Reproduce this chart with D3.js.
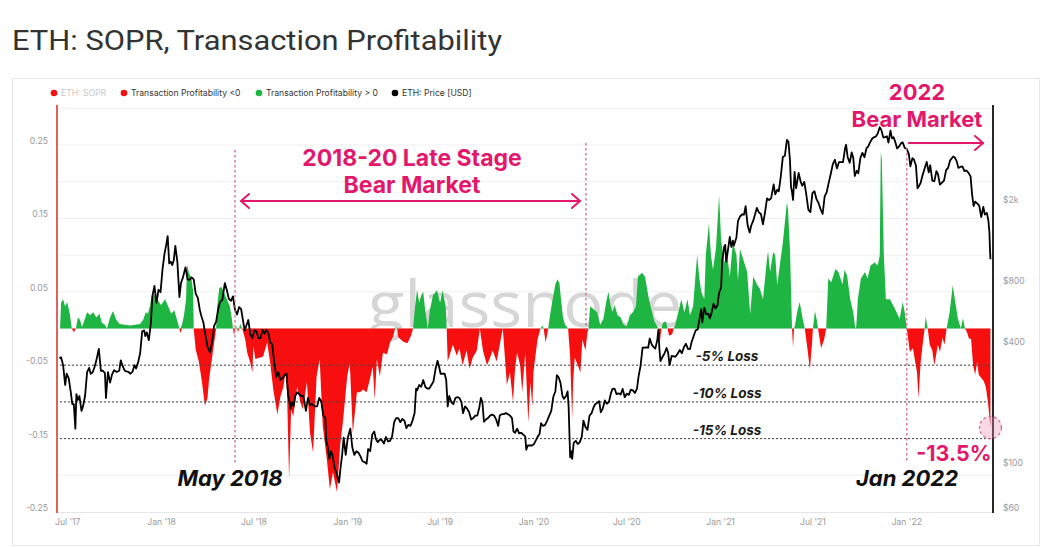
<!DOCTYPE html>
<html><head><meta charset="utf-8">
<script src="https://cdn.jsdelivr.net/npm/d3@7"></script>
<style>body{margin:0;background:#fff;} svg{display:block;}</style>
</head><body><svg id="c" width="1041" height="547"></svg>
<script>
// ---------------- DATA ----------------
const title = "ETH: SOPR, Transaction Profitability";
const legendLabels = ["ETH: SOPR", "Transaction Profitability <0", "Transaction Profitability > 0", "ETH: Price [USD]"];
const leftTicks = [0.25, 0.15, 0.05, -0.05, -0.15, -0.25];
const gridTicks = [0.3, 0.25, 0.2, 0.15, 0.1, 0.05, 0, -0.05, -0.1, -0.15, -0.2];
const rightTicks = [60, 100, 400, 800, 2000];
const rightTickLabels = ["$60", "$100", "$400", "$800", "$2k"];
const xTicks = ["2017-07-01","2018-01-01","2018-07-01","2019-01-01","2019-07-01","2020-01-01","2020-07-01","2021-01-01","2021-07-01","2022-01-01"];
const xTickLabels = ["Jul '17","Jan '18","Jul '18","Jan '19","Jul '19","Jan '20","Jul '20","Jan '21","Jul '21","Jan '22"];
const lossLevels = [-0.05, -0.10, -0.15];
const lossLabels = ["-5% Loss", "-10% Loss", "-15% Loss"];
const bearStart = ["2018-05-25", "2022-01-01"];
const bearEnd = ["2020-04-12", "2022-06-14"];
const latestValue = ["2022-06-14", -0.135];
const latestLabel = "-13.5%";

const priceData = [
["2017-06-15",345],["2017-06-18",350],["2017-06-22",320],["2017-06-26",255],["2017-06-29",290],["2017-07-03",275],["2017-07-07",235],["2017-07-10",205],["2017-07-13",205],["2017-07-16",155],["2017-07-18",230],["2017-07-21",215],["2017-07-24",225],["2017-07-28",190],["2017-07-31",200],["2017-08-04",225],["2017-08-08",295],["2017-08-12",310],["2017-08-15",290],["2017-08-19",295],["2017-08-23",315],["2017-08-27",345],["2017-08-31",385],
["2017-09-04",300],["2017-09-08",300],["2017-09-12",292],["2017-09-14",220],["2017-09-16",258],["2017-09-18",295],["2017-09-22",262],["2017-09-26",288],["2017-09-30",302],["2017-10-05",296],["2017-10-10",300],["2017-10-13",338],["2017-10-17",315],["2017-10-21",300],["2017-10-24",298],["2017-10-28",296],["2017-11-01",290],["2017-11-05",297],["2017-11-09",320],["2017-11-12",308],["2017-11-16",330],["2017-11-20",366],["2017-11-24",470],["2017-11-28",475],["2017-11-30",445],["2017-12-03",465],["2017-12-07",425],["2017-12-11",515],["2017-12-14",700],["2017-12-18",790],["2017-12-22",650],["2017-12-26",755],["2017-12-30",735],
["2018-01-03",960],["2018-01-07",1150],["2018-01-10",1255],["2018-01-13",1390],["2018-01-16",1020],["2018-01-19",1040],["2018-01-22",1000],["2018-01-25",1060],["2018-01-28",1245],["2018-02-01",1035],["2018-02-05",695],["2018-02-08",815],["2018-02-12",870],["2018-02-17",975],["2018-02-21",850],["2018-02-25",845],["2018-03-01",870],["2018-03-05",850],["2018-03-09",720],["2018-03-13",690],["2018-03-17",600],["2018-03-20",560],["2018-03-24",520],["2018-03-28",450],["2018-04-01",395],["2018-04-06",370],["2018-04-10",415],["2018-04-14",500],["2018-04-18",525],["2018-04-22",605],["2018-04-26",660],["2018-04-30",670],["2018-05-05",815],["2018-05-09",750],["2018-05-13",680],["2018-05-17",665],["2018-05-21",700],["2018-05-25",600],["2018-05-29",570],["2018-06-02",620],["2018-06-06",605],["2018-06-10",525],["2018-06-13",475],["2018-06-16",500],["2018-06-20",535],["2018-06-24",455],["2018-06-28",435],["2018-07-02",475],["2018-07-06",470],["2018-07-10",435],["2018-07-14",435],["2018-07-18",478],["2018-07-22",458],["2018-07-25",478],["2018-07-29",465],["2018-08-02",415],["2018-08-06",405],["2018-08-10",330],["2018-08-14",280],["2018-08-18",295],["2018-08-22",270],["2018-08-26",275],["2018-08-30",285],["2018-09-03",290],["2018-09-06",230],["2018-09-11",195],["2018-09-13",210],["2018-09-17",200],["2018-09-20",225],["2018-09-24",235],["2018-09-28",230],["2018-10-02",225],["2018-10-06",225],["2018-10-11",190],["2018-10-15",220],["2018-10-19",203],["2018-10-23",205],["2018-10-28",200],["2018-11-02",200],["2018-11-06",220],["2018-11-10",212],["2018-11-14",180],["2018-11-18",176],["2018-11-20",135],["2018-11-23",125],["2018-11-26",110],["2018-11-29",120],["2018-12-02",115],["2018-12-06",100],["2018-12-09",95],["2018-12-12",90],["2018-12-15",84],["2018-12-18",100],["2018-12-21",115],["2018-12-24",140],["2018-12-28",115],
["2019-01-01",140],["2019-01-06",155],["2019-01-10",125],["2019-01-14",115],["2019-01-18",120],["2019-01-22",118],["2019-01-26",113],["2019-01-30",107],["2019-02-03",106],["2019-02-07",104],["2019-02-10",123],["2019-02-14",120],["2019-02-18",145],["2019-02-22",150],["2019-02-25",138],["2019-03-01",133],["2019-03-05",137],["2019-03-09",136],["2019-03-13",131],["2019-03-17",141],["2019-03-21",134],["2019-03-25",135],["2019-03-29",142],["2019-04-02",167],["2019-04-06",175],["2019-04-10",175],["2019-04-14",167],["2019-04-18",173],["2019-04-22",170],["2019-04-26",156],["2019-04-30",162],["2019-05-04",160],["2019-05-08",170],["2019-05-12",185],["2019-05-15",245],["2019-05-17",240],["2019-05-21",255],["2019-05-25",250],["2019-05-29",270],["2019-06-02",250],["2019-06-06",245],["2019-06-10",245],["2019-06-14",255],["2019-06-18",265],["2019-06-22",305],["2019-06-26",336],["2019-06-29",315],["2019-07-02",290],["2019-07-06",290],["2019-07-10",290],["2019-07-13",270],["2019-07-16",200],["2019-07-19",225],["2019-07-23",210],["2019-07-27",205],["2019-07-31",220],["2019-08-04",222],["2019-08-08",220],["2019-08-12",210],["2019-08-15",185],["2019-08-19",200],["2019-08-23",195],["2019-08-27",187],["2019-08-31",172],["2019-09-04",175],["2019-09-08",180],["2019-09-12",180],["2019-09-16",198],["2019-09-19",220],["2019-09-22",210],["2019-09-25",168],["2019-09-29",172],["2019-10-03",175],["2019-10-07",180],["2019-10-11",182],["2019-10-15",180],["2019-10-19",172],["2019-10-23",160],["2019-10-26",180],["2019-10-30",183],["2019-11-03",183],["2019-11-07",185],["2019-11-11",183],["2019-11-15",180],["2019-11-19",175],["2019-11-22",150],["2019-11-25",148],["2019-11-29",155],["2019-12-03",147],["2019-12-07",148],["2019-12-11",145],["2019-12-15",142],["2019-12-17",122],["2019-12-20",128],["2019-12-24",128],["2019-12-28",128],
["2020-01-01",130],["2020-01-05",136],["2020-01-08",141],["2020-01-12",146],["2020-01-15",165],["2020-01-19",160],["2020-01-23",162],["2020-01-27",170],["2020-01-31",180],["2020-02-04",190],["2020-02-08",223],["2020-02-12",237],["2020-02-15",285],["2020-02-18",280],["2020-02-22",262],["2020-02-26",225],["2020-02-29",218],["2020-03-04",225],["2020-03-07",237],["2020-03-09",200],["2020-03-12",112],["2020-03-14",120],["2020-03-16",110],["2020-03-19",132],["2020-03-23",135],["2020-03-27",130],["2020-03-31",133],["2020-04-04",142],["2020-04-07",170],["2020-04-11",158],["2020-04-15",153],["2020-04-19",180],["2020-04-23",185],["2020-04-27",198],["2020-04-30",205],["2020-05-04",208],["2020-05-08",212],["2020-05-11",187],["2020-05-15",195],["2020-05-19",214],["2020-05-23",206],["2020-05-27",210],["2020-05-31",232],["2020-06-03",244],["2020-06-07",245],["2020-06-11",230],["2020-06-15",232],["2020-06-19",229],["2020-06-23",244],["2020-06-27",222],["2020-07-01",231],["2020-07-05",228],["2020-07-09",242],["2020-07-13",240],["2020-07-17",233],["2020-07-21",244],["2020-07-24",280],["2020-07-28",317],["2020-08-01",390],["2020-08-04",390],["2020-08-08",392],["2020-08-12",390],["2020-08-15",433],["2020-08-19",405],["2020-08-22",395],["2020-08-26",386],["2020-08-30",428],["2020-09-01",478],["2020-09-03",385],["2020-09-05",335],["2020-09-09",351],["2020-09-13",365],["2020-09-17",389],["2020-09-20",370],["2020-09-23",320],["2020-09-27",355],["2020-10-01",353],["2020-10-05",353],["2020-10-09",365],["2020-10-13",380],["2020-10-17",366],["2020-10-21",392],["2020-10-25",408],["2020-10-29",385],["2020-11-02",384],["2020-11-05",415],["2020-11-09",445],["2020-11-13",475],["2020-11-17",480],["2020-11-21",548],["2020-11-24",605],["2020-11-26",520],["2020-11-30",615],["2020-12-04",570],["2020-12-08",575],["2020-12-11",545],["2020-12-15",590],["2020-12-18",645],["2020-12-22",610],["2020-12-26",635],["2020-12-29",730],
["2021-01-02",775],["2021-01-04",1040],["2021-01-08",1230],["2021-01-10",1260],["2021-01-12",1040],["2021-01-15",1170],["2021-01-19",1380],["2021-01-22",1230],["2021-01-25",1320],["2021-01-27",1250],["2021-02-01",1370],["2021-02-04",1650],["2021-02-08",1740],["2021-02-12",1780],["2021-02-16",1780],["2021-02-19",1960],["2021-02-23",1570],["2021-02-27",1450],["2021-03-02",1570],["2021-03-06",1660],["2021-03-10",1800],["2021-03-13",1920],["2021-03-17",1825],["2021-03-21",1790],["2021-03-25",1590],["2021-03-29",1820],["2021-04-02",2140],["2021-04-06",2100],["2021-04-10",2140],["2021-04-15",2510],["2021-04-18",2240],["2021-04-22",2360],["2021-04-25",2320],["2021-04-29",2750],["2021-05-03",3430],["2021-05-07",3480],["2021-05-11",4170],["2021-05-14",4080],["2021-05-17",3290],["2021-05-19",2440],["2021-05-21",2300],["2021-05-23",2100],["2021-05-26",2890],["2021-05-29",2400],["2021-06-03",2860],["2021-06-07",2580],["2021-06-10",2470],["2021-06-14",2580],["2021-06-18",2230],["2021-06-22",1880],["2021-06-26",1830],["2021-06-30",2270],["2021-07-04",2320],["2021-07-08",2120],["2021-07-12",2030],["2021-07-16",1890],["2021-07-20",1790],["2021-07-24",2190],["2021-07-28",2300],["2021-08-01",2560],["2021-08-05",2830],["2021-08-09",3160],["2021-08-13",3320],["2021-08-17",3010],["2021-08-21",3230],["2021-08-25",3230],["2021-08-29",3230],["2021-09-02",3790],["2021-09-04",3940],["2021-09-07",3430],["2021-09-11",3210],["2021-09-15",3610],["2021-09-18",3400],["2021-09-21",2760],["2021-09-25",2930],["2021-09-28",2850],["2021-10-02",3390],["2021-10-06",3590],["2021-10-10",3420],["2021-10-14",3790],["2021-10-17",3850],["2021-10-21",4050],["2021-10-25",4220],["2021-10-28",4290],["2021-11-01",4320],["2021-11-05",4480],["2021-11-09",4810],["2021-11-12",4670],["2021-11-16",4280],["2021-11-19",4300],["2021-11-23",4340],["2021-11-26",4040],["2021-11-30",4630],["2021-12-03",4240],["2021-12-06",4300],["2021-12-09",4100],["2021-12-13",3780],["2021-12-17",3870],["2021-12-21",4020],["2021-12-24",4050],["2021-12-28",3800],
["2022-01-01",3760],["2022-01-05",3540],["2022-01-08",3080],["2022-01-12",3380],["2022-01-15",3330],["2022-01-19",3100],["2022-01-22",2400],["2022-01-24",2440],["2022-01-28",2550],["2022-02-01",2790],["2022-02-05",3010],["2022-02-09",3240],["2022-02-13",2880],["2022-02-16",3120],["2022-02-20",2620],["2022-02-24",2600],["2022-02-28",2920],["2022-03-03",2830],["2022-03-07",2500],["2022-03-11",2560],["2022-03-15",2620],["2022-03-19",2950],["2022-03-23",3030],["2022-03-27",3300],["2022-04-02",3450],["2022-04-05",3410],["2022-04-09",3260],["2022-04-12",3030],["2022-04-16",3060],["2022-04-20",3080],["2022-04-24",2920],["2022-04-28",2940],["2022-05-02",2860],["2022-05-06",2750],["2022-05-09",2240],["2022-05-12",1960],["2022-05-15",2060],["2022-05-19",2020],["2022-05-23",1970],["2022-05-27",1730],["2022-05-31",1940],["2022-06-03",1780],["2022-06-07",1810],["2022-06-10",1660],["2022-06-12",1450],["2022-06-13",1210],["2022-06-14",1070]
];

const profitData = [
["2017-06-16",0.0],["2017-06-18",0.035],["2017-06-22",0.04],["2017-06-26",0.03],["2017-06-30",0.036],["2017-07-05",0.02],["2017-07-09",0],["2017-07-13",-0.005],["2017-07-17",0],["2017-07-21",0.015],["2017-07-25",0.012],["2017-07-29",0.002],["2017-08-02",0.01],["2017-08-08",0.022],["2017-08-14",0.018],["2017-08-20",0.022],["2017-08-26",0.015],["2017-09-01",0.02],["2017-09-06",0.008],["2017-09-12",0.005],["2017-09-16",0],["2017-09-22",0.015],["2017-09-28",0.024],["2017-10-04",0.012],["2017-10-11",0.006],["2017-10-21",0.005],["2017-11-01",0.004],["2017-11-10",0.005],["2017-11-20",0.006],["2017-11-26",0.012],["2017-12-01",0.022],["2017-12-05",0.02],["2017-12-09",0.03],["2017-12-13",0.046],["2017-12-19",0.045],["2017-12-25",0.038],["2017-12-31",0.032],
["2018-01-08",0.04],["2018-01-14",0.03],["2018-01-20",0.02],["2018-01-26",0.025],["2018-02-01",0.01],["2018-02-05",0],["2018-02-07",-0.006],["2018-02-10",0.005],["2018-02-14",0.018],["2018-02-18",0.04],["2018-02-20",0.087],["2018-02-24",0.075],["2018-02-28",0.07],["2018-03-04",0.05],["2018-03-05",0],["2018-03-09",-0.029],["2018-03-15",-0.045],["2018-03-21",-0.072],["2018-03-27",-0.105],["2018-04-01",-0.095],["2018-04-04",-0.07],["2018-04-10",-0.04],["2018-04-16",-0.01],["2018-04-18",0],["2018-04-20",0.03],["2018-04-24",0.055],["2018-04-28",0.057],["2018-05-03",0.05],["2018-05-09",0.04],["2018-05-15",0.03],["2018-05-19",0.012],["2018-05-21",0],["2018-05-23",-0.01],["2018-05-25",0],["2018-05-27",0.003],["2018-05-29",0],["2018-05-31",-0.005],["2018-06-02",0],["2018-06-04",0.006],["2018-06-08",0],["2018-06-14",-0.015],["2018-06-18",-0.033],["2018-06-24",-0.047],["2018-06-28",-0.06],["2018-06-30",-0.024],["2018-07-04",-0.042],["2018-07-10",-0.04],["2018-07-13",-0.04],["2018-07-19",-0.038],["2018-07-27",-0.019],["2018-08-02",-0.047],["2018-08-08",-0.083],["2018-08-16",-0.117],["2018-08-22",-0.093],["2018-08-28",-0.079],["2018-09-01",-0.06],["2018-09-04",-0.087],["2018-09-08",-0.205],["2018-09-12",-0.11],["2018-09-16",-0.12],["2018-09-24",-0.079],["2018-09-30",-0.10],["2018-10-05",-0.11],["2018-10-13",-0.073],["2018-10-19",-0.142],["2018-10-25",-0.169],["2018-11-01",-0.065],["2018-11-07",-0.042],["2018-11-13",-0.133],["2018-11-21",-0.178],["2018-11-27",-0.219],["2018-12-03",-0.196],["2018-12-11",-0.223],["2018-12-17",-0.16],["2018-12-23",-0.124],["2018-12-31",-0.065],
["2019-01-05",-0.047],["2019-01-11",-0.142],["2019-01-19",-0.087],["2019-01-25",-0.087],["2019-01-31",-0.083],["2019-02-07",-0.087],["2019-02-13",-0.07],["2019-02-19",-0.052],["2019-02-23",-0.097],["2019-02-27",-0.042],["2019-03-05",-0.065],["2019-03-11",-0.033],["2019-03-19",-0.035],["2019-03-25",-0.019],["2019-03-31",-0.011],["2019-04-04",0],["2019-04-06",0.002],["2019-04-08",0],["2019-04-10",-0.012],["2019-04-20",-0.018],["2019-04-28",-0.02],["2019-05-05",-0.01],["2019-05-09",0],["2019-05-13",0.03],["2019-05-17",0.053],["2019-05-21",0.035],["2019-05-25",0.045],["2019-05-29",0.05],["2019-06-01",0.03],["2019-06-05",0.01],["2019-06-07",0],["2019-06-11",0.025],["2019-06-17",0.045],["2019-06-25",0.052],["2019-07-01",0.035],["2019-07-06",0.052],["2019-07-12",0.03],["2019-07-14",0],["2019-07-16",-0.045],["2019-07-26",-0.022],["2019-08-03",-0.037],["2019-08-08",-0.027],["2019-08-14",-0.05],["2019-08-22",-0.03],["2019-08-28",-0.055],["2019-09-03",-0.04],["2019-09-11",-0.03],["2019-09-17",0],["2019-09-23",-0.03],["2019-10-01",-0.05],["2019-10-07",-0.04],["2019-10-12",-0.03],["2019-10-20",-0.045],["2019-10-26",-0.022],["2019-11-01",0],["2019-11-09",-0.077],["2019-11-15",-0.06],["2019-11-21",-0.10],["2019-11-25",-0.055],["2019-11-29",-0.033],["2019-12-05",-0.05],["2019-12-09",-0.087],["2019-12-15",-0.033],["2019-12-21",-0.128],["2019-12-25",-0.074],["2019-12-29",-0.106],["2019-12-31",-0.06],
["2020-01-08",-0.015],["2020-01-14",0],["2020-01-18",0.004],["2020-01-20",0],["2020-01-24",-0.019],["2020-01-29",0],["2020-02-02",0.02],["2020-02-08",0.045],["2020-02-12",0.06],["2020-02-16",0.067],["2020-02-20",0.062],["2020-02-23",0.04],["2020-02-27",0.015],["2020-03-02",0.005],["2020-03-08",0],["2020-03-12",-0.038],["2020-03-16",-0.124],["2020-03-18",-0.07],["2020-03-21",-0.04],["2020-03-27",-0.05],["2020-04-01",-0.06],["2020-04-05",-0.015],["2020-04-11",-0.03],["2020-04-15",-0.005],["2020-04-17",0],["2020-04-20",0.03],["2020-04-26",0.027],["2020-05-04",0.022],["2020-05-10",0.005],["2020-05-16",0.013],["2020-05-22",0.037],["2020-05-26",0.05],["2020-05-30",0.032],["2020-06-03",0.022],["2020-06-07",0.032],["2020-06-13",0.018],["2020-06-19",0.015],["2020-06-25",0.005],["2020-07-01",0.003],["2020-07-07",0.018],["2020-07-13",0.022],["2020-07-19",0.03],["2020-07-23",0.071],["2020-07-31",0.076],["2020-08-06",0.07],["2020-08-12",0.045],["2020-08-18",0.027],["2020-08-24",0.01],["2020-09-01",0],["2020-09-04",-0.018],["2020-09-07",0],["2020-09-10",0.008],["2020-09-16",0.01],["2020-09-19",0],["2020-09-22",-0.01],["2020-09-28",-0.008],["2020-10-01",0],["2020-10-04",0.005],["2020-10-10",0.022],["2020-10-16",0.04],["2020-10-22",0.022],["2020-10-28",0.04],["2020-11-02",0.018],["2020-11-08",0.03],["2020-11-16",0.10],["2020-11-20",0.07],["2020-11-24",0.05],["2020-11-30",0.04],["2020-12-03",0.10],["2020-12-09",0.143],["2020-12-13",0.10],["2020-12-17",0.08],["2020-12-23",0.11],["2020-12-29",0.182],
["2021-01-02",0.12],["2021-01-08",0.09],["2021-01-14",0.10],["2021-01-19",0.07],["2021-01-25",0.117],["2021-02-01",0.10],["2021-02-04",0.065],["2021-02-08",0.108],["2021-02-14",0.095],["2021-02-22",0.077],["2021-02-28",0.02],["2021-03-06",0.071],["2021-03-14",0.059],["2021-03-19",0.054],["2021-03-25",0.04],["2021-04-02",0.095],["2021-04-04",0.105],["2021-04-08",0.077],["2021-04-14",0.104],["2021-04-18",0.10],["2021-04-22",0.059],["2021-04-27",0.086],["2021-05-03",0.117],["2021-05-11",0.172],["2021-05-13",0.163],["2021-05-17",0.108],["2021-05-21",0],["2021-05-23",-0.026],["2021-05-25",0],["2021-05-27",0.005],["2021-05-31",0.022],["2021-06-05",0.036],["2021-06-11",0.013],["2021-06-15",0],["2021-06-21",-0.032],["2021-06-25",-0.056],["2021-06-29",-0.022],["2021-07-01",0],["2021-07-05",0.024],["2021-07-09",0.01],["2021-07-11",0],["2021-07-17",-0.027],["2021-07-23",-0.015],["2021-07-27",0],["2021-07-31",0.068],["2021-08-06",0.063],["2021-08-14",0.081],["2021-08-20",0.077],["2021-08-28",0.06],["2021-09-01",0.08],["2021-09-06",0.072],["2021-09-12",0.04],["2021-09-18",0.022],["2021-09-22",0],["2021-09-24",0.003],["2021-09-27",0.04],["2021-10-03",0.068],["2021-10-11",0.077],["2021-10-16",0.068],["2021-10-22",0.086],["2021-10-30",0.09],["2021-11-05",0.086],["2021-11-09",0.10],["2021-11-11",0.24],["2021-11-13",0.23],["2021-11-17",0.10],["2021-11-21",0.04],["2021-11-29",0.04],["2021-12-05",0.032],["2021-12-12",0.022],["2021-12-18",0.013],["2021-12-24",0.036],["2021-12-28",0.022],
["2022-01-01",0],["2022-01-07",-0.032],["2022-01-13",-0.027],["2022-01-21",-0.06],["2022-01-24",-0.095],["2022-01-28",-0.047],["2022-02-01",-0.022],["2022-02-05",0],["2022-02-07",0.016],["2022-02-11",0],["2022-02-15",-0.022],["2022-02-20",-0.03],["2022-02-24",-0.05],["2022-03-03",-0.022],["2022-03-07",-0.032],["2022-03-12",-0.013],["2022-03-16",-0.022],["2022-03-20",0],["2022-03-26",0.022],["2022-04-01",0.059],["2022-04-05",0.041],["2022-04-11",0.014],["2022-04-17",0],["2022-04-21",0.014],["2022-04-25",0],["2022-04-29",-0.005],["2022-05-03",-0.014],["2022-05-07",-0.014],["2022-05-11",-0.05],["2022-05-15",-0.063],["2022-05-19",-0.045],["2022-05-22",-0.063],["2022-05-28",-0.068],["2022-06-01",-0.072],["2022-06-05",-0.08],["2022-06-09",-0.10],["2022-06-14",-0.135]
];

// ---------------- CHART ----------------
const parse = d3.timeParse("%Y-%m-%d");
const prices = priceData.map(d => ({date: parse(d[0]), v: d[1]}));
const profits = profitData.map(d => ({date: parse(d[0]), v: d[1]}));

const svg = d3.select("#c");
const PINK = "#e3176b", GREEN = "#1fb543", RED = "#f70f0f";
const plotL = 57, plotR = 993, plotT = 105, plotB = 512;

const x = d3.scaleTime().domain([parse("2017-06-10"), parse("2022-06-19")]).range([plotL, plotR]);
const yL = d3.scaleLinear().domain([-0.25, 0.3045]).range([plotB, plotT]);
const yR = d3.scaleLog().domain([60, 6200]).range([plotB, plotT]);

// title
svg.append("text").attr("x", 12).attr("y", 50).text(title)
  .attr("font-family", "Roboto, 'Noto Sans', sans-serif").attr("font-size", 28.5).attr("fill", "#333")
  .attr("textLength", 490).attr("lengthAdjust", "spacingAndGlyphs");

// card
svg.append("rect").attr("x", 12.5).attr("y", 78.5).attr("width", 1027).attr("height", 467)
  .attr("fill", "#fff").attr("stroke", "#e8e8e8");

// legend
const legendColors = [RED, RED, GREEN, "#000"];
const legendX = [54, 124, 259, 395];
const lg = svg.append("g");
legendLabels.forEach((l, i) => {
  lg.append("circle").attr("cx", legendX[i]).attr("cy", 93).attr("r", 3.3).attr("fill", legendColors[i]);
  lg.append("text").attr("x", legendX[i] + 7).attr("y", 96.3).text(l)
    .attr("font-family", "Inter, 'Noto Sans', sans-serif").attr("font-size", 8.6)
    .attr("fill", i === 0 ? "#c8c8c8" : "#333");
});

// grid
svg.append("g").selectAll("line").data(gridTicks).join("line")
  .attr("x1", plotL).attr("x2", plotR).attr("y1", d => yL(d)).attr("y2", d => yL(d))
  .attr("stroke", "#efefef").attr("stroke-width", 1);
svg.append("line").attr("x1", plotL).attr("x2", plotR).attr("y1", plotB + 0.5).attr("y2", plotB + 0.5)
  .attr("stroke", "#e6e6e6");

// watermark
svg.append("text").attr("x", 525).attr("y", 327).attr("text-anchor", "middle")
  .attr("font-family", "'Open Sans', sans-serif").attr("font-size", 64).attr("fill", "#d6d6d6")
  .attr("textLength", 314).attr("lengthAdjust", "spacingAndGlyphs").text("glassnode");

// profitability areas
const aPos = d3.area().x(d => x(d.date)).y0(yL(0)).y1(d => yL(Math.max(0, d.v)));
const aNeg = d3.area().x(d => x(d.date)).y0(yL(0)).y1(d => yL(Math.min(0, d.v)));
svg.append("path").datum(profits).attr("d", aPos).attr("fill", GREEN);
svg.append("path").datum(profits).attr("d", aNeg).attr("fill", RED);

// loss lines
const lossG = svg.append("g");
lossLevels.forEach((lv, i) => {
  lossG.append("line").attr("x1", 60).attr("x2", plotR).attr("y1", yL(lv)).attr("y2", yL(lv))
    .attr("stroke", "#444").attr("stroke-width", 1).attr("stroke-dasharray", "2,2");
  lossG.append("text").attr("x", 727).attr("y", yL(lv) - 4).attr("text-anchor", "middle")
    .attr("font-family", "Inter, 'Open Sans', sans-serif").attr("font-weight", 700).attr("font-style", "italic")
    .attr("font-size", 13.5).attr("fill", "#1a1a1a").text(lossLabels[i]);
});

// price line
svg.append("path").datum(prices)
  .attr("d", d3.line().x(d => x(d.date)).y(d => yR(d.v)))
  .attr("fill", "none").attr("stroke", "#000").attr("stroke-width", 1.8).attr("stroke-linejoin", "round");

// axes
svg.append("line").attr("x1", plotL).attr("x2", plotL).attr("y1", plotT).attr("y2", plotB + 1)
  .attr("stroke", "#d9534f").attr("stroke-width", 1.8);
svg.append("line").attr("x1", plotR).attr("x2", plotR).attr("y1", plotT).attr("y2", plotB + 1)
  .attr("stroke", "#111").attr("stroke-width", 1.8);

const axisFont = "Inter, 'Noto Sans', sans-serif";
svg.append("g").selectAll("text").data(leftTicks).join("text")
  .attr("x", 48).attr("y", d => yL(d) - 1).attr("text-anchor", "end")
  .attr("font-family", axisFont).attr("font-size", 8.6).attr("fill", "#999")
  .text(d => d3.format(".2f")(d).replace("−", "-"));
svg.append("g").selectAll("text").data(rightTicks).join("text")
  .attr("x", 1003).attr("y", d => yR(d) - 1).attr("text-anchor", "start")
  .attr("font-family", axisFont).attr("font-size", 8.6).attr("fill", "#999")
  .text((d, i) => rightTickLabels[i]);
svg.append("g").selectAll("text").data(xTicks).join("text")
  .attr("x", d => x(parse(d))).attr("y", 525).attr("text-anchor", "middle")
  .attr("font-family", axisFont).attr("font-size", 8.6).attr("fill", "#999")
  .text((d, i) => xTickLabels[i]);

// annotations: vertical dotted lines
const vlines = [[bearStart[0], 150, 465], [bearEnd[0], 143, 330], [bearStart[1], 148, 463]];
vlines.forEach(v => {
  svg.append("line").attr("x1", x(parse(v[0]))).attr("x2", x(parse(v[0])))
    .attr("y1", v[1]).attr("y2", v[2])
    .attr("stroke", "#d2668f").attr("stroke-width", 1.3).attr("stroke-dasharray", "2.5,2.5");
});

// arrows
function arrow(x1, x2, y, both) {
  const g = svg.append("g").attr("stroke", PINK).attr("stroke-width", 2).attr("fill", "none")
    .attr("stroke-linecap", "round").attr("stroke-linejoin", "round");
  g.append("line").attr("x1", x1).attr("x2", x2).attr("y1", y).attr("y2", y);
  g.append("path").attr("d", `M${x2 - 8},${y - 7} L${x2},${y} L${x2 - 8},${y + 7}`);
  if (both) g.append("path").attr("d", `M${x1 + 8},${y - 7} L${x1},${y} L${x1 + 8},${y + 7}`);
}
arrow(x(parse(bearStart[0])) + 6, x(parse(bearEnd[0])) - 6, 201, true);
arrow(x(parse(bearStart[1])) + 2, plotR - 10, 143, false);

const annFont = "Inter, 'Open Sans', sans-serif";
function ann(txt, xx, yy, size, fill, italic) {
  svg.append("text").attr("x", xx).attr("y", yy).attr("text-anchor", "middle")
    .attr("font-family", annFont).attr("font-weight", 700).attr("font-size", size)
    .attr("font-style", italic ? "italic" : "normal").attr("fill", fill).text(txt);
}
ann("2018-20 Late Stage", 412, 166, 23, PINK);
ann("Bear Market", 412, 193, 23, PINK);
ann("2022", 917, 100, 22, PINK);
ann("Bear Market", 917, 127, 22, PINK);
ann("May 2018", 230, 486, 22, "#111", true);
ann("Jan 2022", 907, 486, 22, "#111", true);
ann(latestLabel, 954, 461, 21.5, PINK);

// latest marker
svg.append("circle").attr("cx", x(parse(latestValue[0]))).attr("cy", yL(latestValue[1])).attr("r", 11)
  .attr("fill", "rgba(240,140,180,0.35)").attr("stroke", "#d2668f").attr("stroke-width", 1.2)
  .attr("stroke-dasharray", "3,2.5");
</script></body></html>
